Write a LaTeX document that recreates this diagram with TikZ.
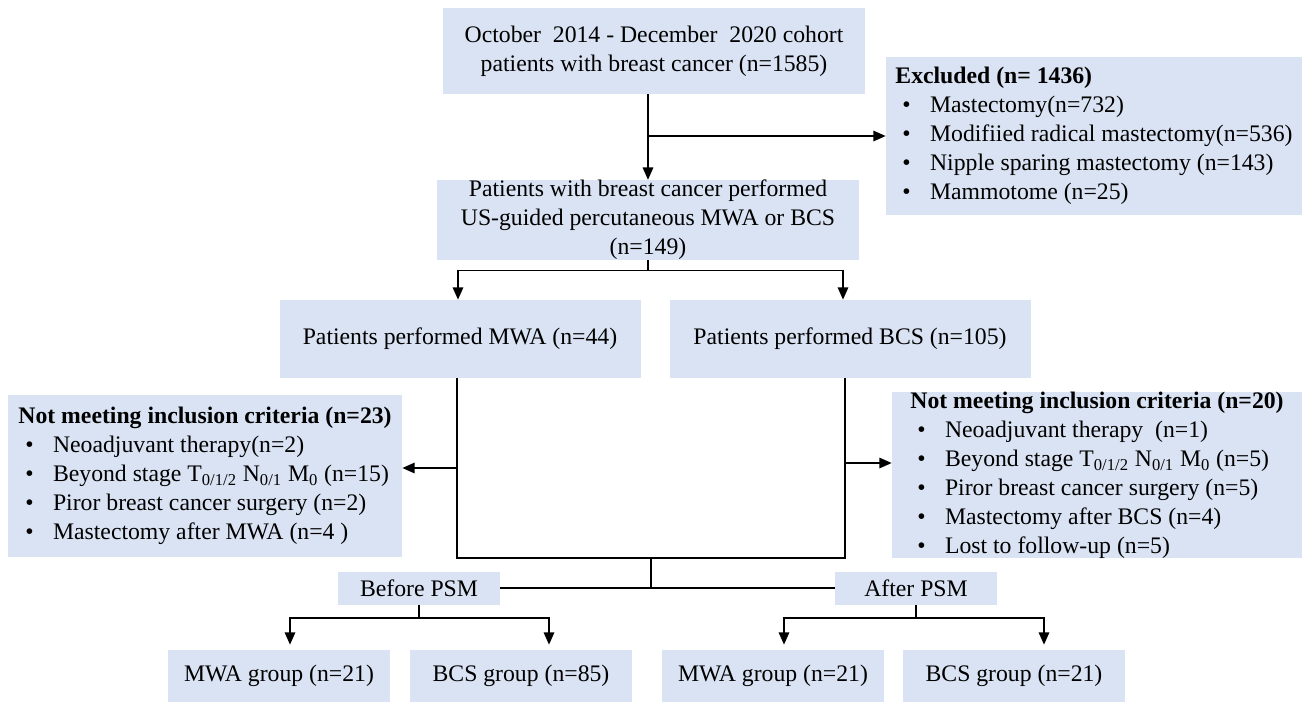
\documentclass[tikz,border=0pt]{standalone}
\usepackage{fontspec}
\setmainfont{Liberation Serif}
\usepackage{tikz}
\usetikzlibrary{arrows.meta, positioning, calc}
\usepackage{xcolor}
\definecolor{boxblue}{RGB}{218,227,243}
\newcommand{\itm}[1]{\hspace*{4pt}\textbullet\hspace{11pt}#1}

\begin{document}
\begin{tikzpicture}[x=0.02cm, y=-0.02cm,
  blk/.style={fill=boxblue, inner sep=2pt, align=center, font=\fontsize{13.5}{16.5}\selectfont},
  lst/.style={blk, align=left, inner sep=0pt},
  arr/.style={-{Triangle[length=7pt,width=6pt]}, thick},
  ln/.style={thick}]
  \useasboundingbox (0,0) rectangle (1306,701);
  % top part
  \node[blk, minimum width=422*0.02cm, minimum height=86*0.02cm] (top) at (654,51)
    {October\ \ 2014 - December\ \ 2020 cohort\\patients with breast cancer (n=1585)};
  \node[lst, minimum width=416*0.02cm, minimum height=158*0.02cm] (excl) at (1094,136)
    {\textbf{Excluded (n= 1436)}\\\itm{Mastectomy(n=732)}\\\itm{Modifiied radical mastectomy(n=536)}\\
     \itm{Nipple sparing mastectomy (n=143)}\\\itm{Mammotome (n=25)}};
  \node[blk, minimum width=422*0.02cm, minimum height=78*0.02cm, inner sep=0pt] (mid) at (648,220)
    {Patients with breast cancer performed\\US-guided percutaneous MWA or BCS\\(n=149)};
  \node[blk, minimum width=361*0.02cm, minimum height=78*0.02cm] (mwa) at (460,339)
    {Patients performed MWA (n=44)};
  \node[blk, minimum width=361*0.02cm, minimum height=78*0.02cm] (bcs) at (850,339)
    {Patients performed BCS (n=105)};
  % exclusion after treatment
  \node[lst, minimum width=394*0.02cm, minimum height=162*0.02cm] (nmicL) at (205,476)
    {\textbf{Not meeting inclusion criteria (n=23)}\\\itm{Neoadjuvant therapy(n=2)}\\
     \itm{Beyond stage T\textsubscript{0/1/2} N\textsubscript{0/1} M\textsubscript{0} (n=15)}\\
     \itm{Piror breast cancer surgery (n=2)}\\\itm{Mastectomy after MWA (n=4 )}};
  \node[lst, minimum width=410*0.02cm, minimum height=164*0.02cm] (nmicR) at (1097,475)
    {\textbf{Not meeting inclusion criteria (n=20)}\\\itm{Neoadjuvant therapy\ \ (n=1)}\\
     \itm{Beyond stage T\textsubscript{0/1/2} N\textsubscript{0/1} M\textsubscript{0} (n=5)}\\
     \itm{Piror breast cancer surgery (n=5)}\\\itm{Mastectomy after BCS (n=4)}\\
     \itm{Lost to follow-up (n=5)}};
  % PSM groups
  \node[blk, minimum width=162*0.02cm, minimum height=33*0.02cm] (before) at (419,588) {Before PSM};
  \node[blk, minimum width=162*0.02cm, minimum height=33*0.02cm] (after) at (916,588) {After PSM};
  \node[blk, minimum width=222*0.02cm, minimum height=52*0.02cm] (g1) at (279,676) {MWA group (n=21)};
  \node[blk, minimum width=222*0.02cm, minimum height=52*0.02cm] (g2) at (521,676) {BCS group (n=85)};
  \node[blk, minimum width=222*0.02cm, minimum height=52*0.02cm] (g3) at (773,676) {MWA group (n=21)};
  \node[blk, minimum width=222*0.02cm, minimum height=52*0.02cm] (g4) at (1014,676) {BCS group (n=21)};

  % connectors
  \draw[arr] (mid.north |- top.south) -- (mid.north);
  \draw[arr] (mid.north |- excl.west) -- (excl.west);
  \coordinate (s1) at ($(mid.south)+(0,10)$);
  \draw[ln] (mid.south) -- (s1);
  \draw[arr] (s1) -| ($(mwa.north)+(-2,0)$);
  \draw[arr] (s1) -| ($(bcs.north)+(-7,0)$);
  \coordinate (bar) at (651,558);
  \coordinate (vL) at ($(mwa.south)+(-3,0)$);
  \coordinate (vR) at ($(bcs.south)+(-5,0)$);
  \draw[ln] (vL) |- (bar) -| (vR);
  \draw[arr] (vL |- 0,468) -- (nmicL.east |- 0,468);
  \draw[arr] (vR |- 0,463) -- (nmicR.west |- 0,463);
  \draw[ln] (bar) -- (bar |- before.east);
  \draw[ln] (before.east) -- (after.west);
  \coordinate (b1) at ($(before.south)+(0,13)$);
  \draw[ln] (before.south) -- (b1);
  \draw[arr] (b1) -| ($(g1.north)+(11,-5)$);
  \draw[arr] (b1) -| ($(g2.north)+(28,-5)$);
  \coordinate (b2) at ($(after.south)+(0,13)$);
  \draw[ln] (after.south) -- (b2);
  \draw[arr] (b2) -| ($(g3.north)+(11,-5)$);
  \draw[arr] (b2) -| ($(g4.north)+(30,-5)$);
\end{tikzpicture}
\end{document}
